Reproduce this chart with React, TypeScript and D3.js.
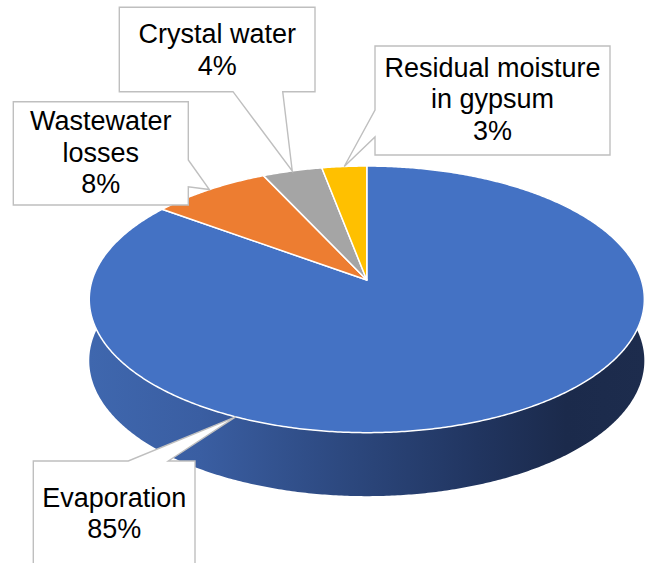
import React from "react";
import * as d3 from "d3";

// ---- data ----
const categories = ["Evaporation", "Wastewater losses", "Crystal water", "Residual moisture in gypsum"];
const values = [85, 8, 4, 3];
const labelLines = [["Evaporation"], ["Wastewater", "losses"], ["Crystal water"], ["Residual moisture", "in gypsum"]];
const colors = ["#4472C4", "#ED7D31", "#A5A5A5", "#FFC000"];

// ---- layout ----
const W = 646, H = 563;
const CX = 366.8, CY = 280, RX = 274.6, RY = 130.5, Q = 0.1451;
const deg = Math.PI / 180;

type Callout = {
  x0: number; y0: number; x1: number; y1: number;
  edge: "top" | "bottom" | "left" | "right";
  b0: number; b1: number; tipAngle: number | null;
  tx: number; ty: number; lh: number;
};
const callouts: Callout[] = [
  { x0: 33.3, y0: 461, x1: 195, y1: 580, edge: "top", b0: 128.3, b1: 168.3, tipAngle: 204.5 * deg, tx: 114.2, ty: 506.7, lh: 31.7 },
  { x0: 13.3, y0: 101.7, x1: 188.3, y1: 205, edge: "right", b0: 160, b1: 186.7, tipAngle: null, tx: 100.8, ty: 130, lh: 31.7 },
  { x0: 119.3, y0: 7.3, x1: 315, y1: 91.7, edge: "bottom", b0: 233, b1: 282.7, tipAngle: null, tx: 217.2, ty: 43, lh: 32 },
  { x0: 375, y0: 46, x1: 610, y1: 155, edge: "left", b0: 110, b1: 137, tipAngle: null, tx: 492.5, ty: 76.7, lh: 31.7 },
];

function proj(a: number, bottom = false): [number, number] {
  const u = Math.sin(a), v = Math.cos(a), den = 1 + Q * v;
  const x = CX + (RX * u) / den;
  let y = CY - (RY * v) / den;
  if (bottom) y += 61 - 2.5 * v;
  return [x, y];
}

function arcPts(a0: number, a1: number, bottom = false): [number, number][] {
  const n = Math.max(8, Math.ceil(Math.abs(a1 - a0) / (0.5 * deg)));
  return d3.range(n + 1).map((i) => proj(a0 + ((a1 - a0) * i) / n, bottom));
}

function calloutPath(c: Callout, tip: [number, number]): string {
  const pts: [number, number][] = [[c.x0, c.y0]];
  if (c.edge === "top") pts.push([c.b0, c.y0], tip, [c.b1, c.y0]);
  pts.push([c.x1, c.y0]);
  if (c.edge === "right") pts.push([c.x1, c.b0], tip, [c.x1, c.b1]);
  pts.push([c.x1, c.y1]);
  if (c.edge === "bottom") pts.push([c.b1, c.y1], tip, [c.b0, c.y1]);
  pts.push([c.x0, c.y1]);
  if (c.edge === "left") pts.push([c.x0, c.b1], tip, [c.x0, c.b0]);
  return (d3.line()(pts) || "") + "Z";
}

export default function App() {
  const pie = d3.pie<number>().sort(null).startAngle(0).endAngle(2 * Math.PI);
  const arcs = pie(values);
  const total = d3.sum(values);
  const pct = d3.format(".0%");
  const line = d3.line();

  const sideTop = arcPts(85 * deg, 275 * deg);
  const sideBot = arcPts(275 * deg, 85 * deg, true);
  const sidePath = (line([...sideTop, ...sideBot]) || "") + "Z";

  return (
    <svg width={W} height={H} style={{ position: "absolute", left: 0, top: 0, display: "block" }}>
      <defs>
        <linearGradient id="sideGrad" gradientUnits="userSpaceOnUse" x1={89} y1={0} x2={644} y2={0}>
          <stop offset="0" stopColor="#3f67ae" />
          <stop offset="0.2" stopColor="#3a5ea2" />
          <stop offset="0.45" stopColor="#2d4980" />
          <stop offset="0.7" stopColor="#213560" />
          <stop offset="0.86" stopColor="#1b2a4b" />
          <stop offset="1" stopColor="#1d2c4d" />
        </linearGradient>
      </defs>
      <rect width={W} height={H} fill="#fff" />
      <path d={sidePath} fill="url(#sideGrad)" />
      {arcs.map((a, i) => {
        const pts: [number, number][] = [[CX, CY], ...arcPts(a.startAngle, a.endAngle)];
        return (
          <path key={categories[i]} d={(line(pts) || "") + "Z"} fill={colors[i]} stroke="#fff" strokeWidth={1.5} strokeLinejoin="round" />
        );
      })}
      {arcs.map((a, i) => {
        const c = callouts[i];
        const ang = c.tipAngle ?? (a.startAngle + a.endAngle) / 2;
        const tip = proj(ang);
        const lines = [...labelLines[i], pct(values[i] / total)];
        return (
          <g key={"lab" + i}>
            <path d={calloutPath(c, tip)} fill="#fff" stroke="#BFBFBF" strokeWidth={1.4} />
            <text textAnchor="middle" fontFamily="'Liberation Sans', Arial, sans-serif" fontSize={27} fill="#000">
              {lines.map((t, j) => (
                <tspan key={j} x={c.tx} y={c.ty + j * c.lh}>{t}</tspan>
              ))}
            </text>
          </g>
        );
      })}
    </svg>
  );
}
